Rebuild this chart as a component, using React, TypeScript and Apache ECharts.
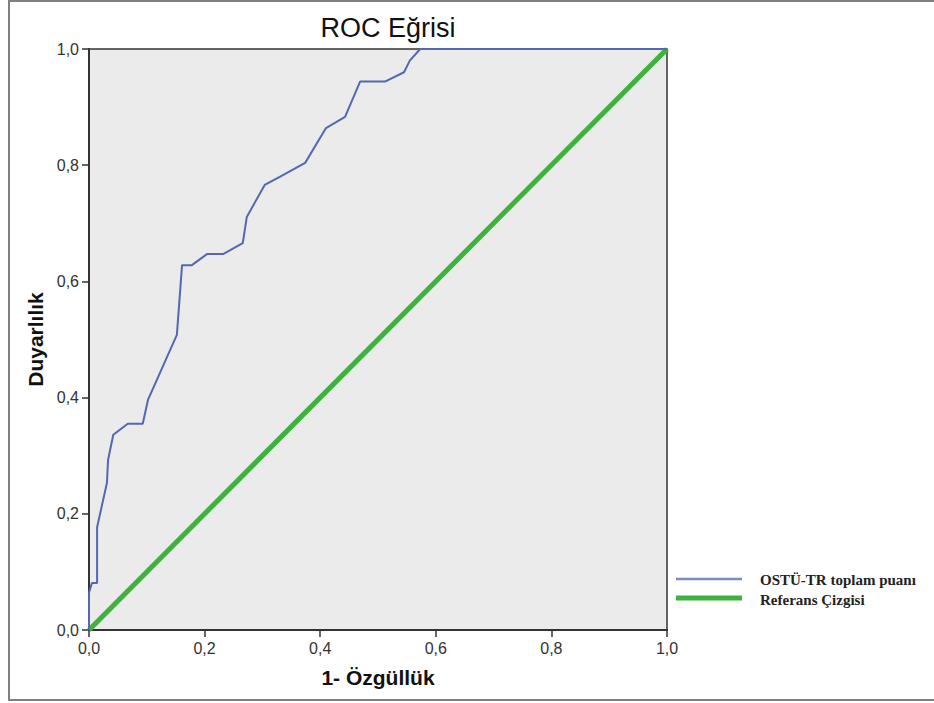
import React, { useEffect, useRef } from "react";
import * as echarts from "echarts";

const fpr = [0, 0, 0.005, 0.014, 0.014, 0.031, 0.033, 0.042, 0.067, 0.093, 0.102, 0.152, 0.161, 0.178, 0.204, 0.232, 0.266, 0.273, 0.304, 0.33, 0.374, 0.41, 0.443, 0.469, 0.512, 0.545, 0.555, 0.573, 1.0];
const tpr = [0, 0.064, 0.081, 0.081, 0.177, 0.253, 0.293, 0.336, 0.355, 0.355, 0.396, 0.508, 0.628, 0.628, 0.647, 0.647, 0.666, 0.711, 0.766, 0.78, 0.804, 0.864, 0.883, 0.944, 0.944, 0.96, 0.98, 1.0, 1.0];
const refX = [0, 1];
const refY = [0, 1];
const seriesNames = ["OSTÜ-TR toplam puanı", "Referans Çizgisi"];
const titleText = "ROC Eğrisi";
const xName = "1- Özgüllük";
const yName = "Duyarlılık";

const fmt = (v: number) => v.toFixed(1).replace(".", ",");

export default function App() {
  const ref = useRef<HTMLDivElement>(null);
  useEffect(() => {
    document.body.style.margin = "0";
    const chart = echarts.init(ref.current!, undefined, { renderer: "svg" });
    const sans = "Liberation Sans, Arial, sans-serif";
    const serif = "Liberation Serif, Times New Roman, serif";
    chart.setOption({
      animation: false,
      backgroundColor: "#ffffff",
      grid: {
        left: 89,
        top: 49,
        width: 578,
        height: 581,
        show: true,
        backgroundColor: "#EBEBEB",
        borderColor: "#333333",
        borderWidth: 1.5,
      },
      xAxis: {
        type: "value",
        min: 0,
        max: 1,
        interval: 0.2,
        name: xName,
        nameLocation: "middle",
        nameGap: 37,
        nameTextStyle: { fontFamily: sans, fontWeight: "bold", fontSize: 21, color: "#111" },
        axisLine: { show: true, lineStyle: { color: "#333", width: 2 } },
        axisTick: { show: true, inside: false, length: 7, lineStyle: { color: "#333", width: 1.5 } },
        axisLabel: { formatter: fmt, fontFamily: sans, fontSize: 16, color: "#333", margin: 10 },
        splitLine: { show: false },
      },
      yAxis: {
        type: "value",
        min: 0,
        max: 1,
        interval: 0.2,
        name: yName,
        nameLocation: "middle",
        nameGap: 42,
        nameTextStyle: { fontFamily: sans, fontWeight: "bold", fontSize: 21, color: "#111" },
        axisLine: { show: true, lineStyle: { color: "#333", width: 2 } },
        axisTick: { show: true, inside: false, length: 7, lineStyle: { color: "#333", width: 1.5 } },
        axisLabel: { formatter: fmt, fontFamily: sans, fontSize: 16, color: "#333", margin: 10 },
        splitLine: { show: false },
      },
      series: [
        {
          name: seriesNames[0],
          type: "line",
          showSymbol: false,
          data: fpr.map((x, i) => [x, tpr[i]]),
          lineStyle: { color: "#5468B0", width: 2 },
          z: 3,
        },
        {
          name: seriesNames[1],
          type: "line",
          showSymbol: false,
          data: refX.map((x, i) => [x, refY[i]]),
          lineStyle: { color: "#3DB23D", width: 5 },
          z: 2,
        },
      ],
      graphic: [
        {
          type: "rect",
          shape: { x: 9, y: 1, width: 940, height: 699 },
          style: { fill: "none", stroke: "#808080", lineWidth: 2 },
          silent: true,
          z: 0,
        },
        {
          type: "text",
          x: 388,
          y: 28,
          style: {
            text: titleText,
            fontFamily: sans,
            fontSize: 27,
            fill: "#111",
            textAlign: "center",
            textVerticalAlign: "middle",
          },
        },
        {
          type: "line",
          shape: { x1: 676, y1: 579, x2: 742, y2: 579 },
          style: { stroke: "#7C8CC0", lineWidth: 2.5 },
        },
        {
          type: "line",
          shape: { x1: 676, y1: 598, x2: 742, y2: 598 },
          style: { stroke: "#3DB23D", lineWidth: 5 },
        },
        {
          type: "text",
          x: 760,
          y: 580,
          style: {
            text: seriesNames[0],
            fontFamily: serif,
            fontWeight: "bold",
            fontSize: 15,
            fill: "#222",
            textVerticalAlign: "middle",
          },
        },
        {
          type: "text",
          x: 760,
          y: 600,
          style: {
            text: seriesNames[1],
            fontFamily: serif,
            fontWeight: "bold",
            fontSize: 15,
            fill: "#222",
            textVerticalAlign: "middle",
          },
        },
      ],
    });
    return () => chart.dispose();
  }, []);
  return <div ref={ref} style={{ width: 934, height: 703 }} />;
}
